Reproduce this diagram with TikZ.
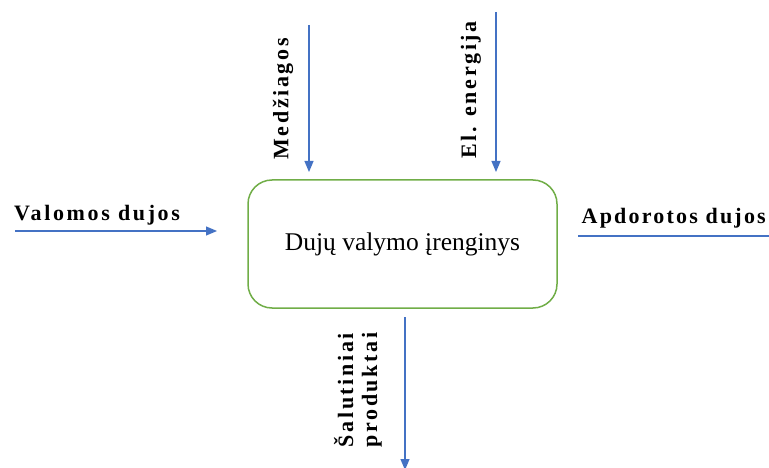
\documentclass[tikz,border=0pt]{standalone}
\usepackage{fontspec}
\setmainfont{Liberation Serif}
\newfontfamily\spaced[LetterSpace=12]{Liberation Serif}
\newfontfamily\spacedb[LetterSpace=10]{Liberation Serif}
\usetikzlibrary{arrows.meta}
\definecolor{arrowblue}{HTML}{4472C4}
\definecolor{boxgreen}{HTML}{70AD47}
\begin{document}
\begin{tikzpicture}[x=1pt,y=-1pt,
  flow/.style={draw=arrowblue,line width=1.2pt,-{Triangle[length=11pt,width=9pt]}},
  plainflow/.style={draw=arrowblue,line width=1.2pt},
  lbl/.style={font=\fontsize{22}{24}\selectfont\spaced\bfseries,inner sep=0pt},
  mainbox/.style={draw=boxgreen,line width=1.5pt,rounded corners=24pt,minimum width=309pt,minimum height=128pt,font=\fontsize{25.5}{28}\selectfont}]
\useasboundingbox (0,0) rectangle (769,468);
\node[mainbox] (box) at (402.5,244) {Dujų valymo įrenginys};
% left input
\coordinate (inL) at (15,231);
\coordinate (inLe) at (217,231);
\draw[flow] (inL) -- (inLe);
\node[lbl,anchor=base west] (tinL) at (14,220) {Valomos dujos};
% right output
\coordinate (outR) at (578,236);
\coordinate (outRe) at (775,236);
\draw[plainflow] (outR) -- (outRe);
\node[lbl,anchor=base east,font=\fontsize{22}{24}\selectfont\spacedb\bfseries] (toutR) at (766,224) {Apdorotos dujos};
% top inputs
\coordinate (m1) at (309,25);
\coordinate (m1e) at (309,172);
\draw[flow] (m1) -- (m1e);
\node[lbl,rotate=90] (tm1) at (283,99) {Medžiagos};
\coordinate (e1) at (496,12);
\coordinate (e1e) at (496,172);
\draw[flow] (e1) -- (e1e);
\node[lbl,rotate=90] (te1) at (471,90) {El. energija};
% bottom output
\coordinate (b1) at (405,317);
\coordinate (b1e) at (405,470);
\draw[flow] (b1) -- (b1e);
\node[lbl,rotate=90,align=center] (tb1) at (358,390) {Šalutiniai\\produktai};
\end{tikzpicture}
\end{document}
